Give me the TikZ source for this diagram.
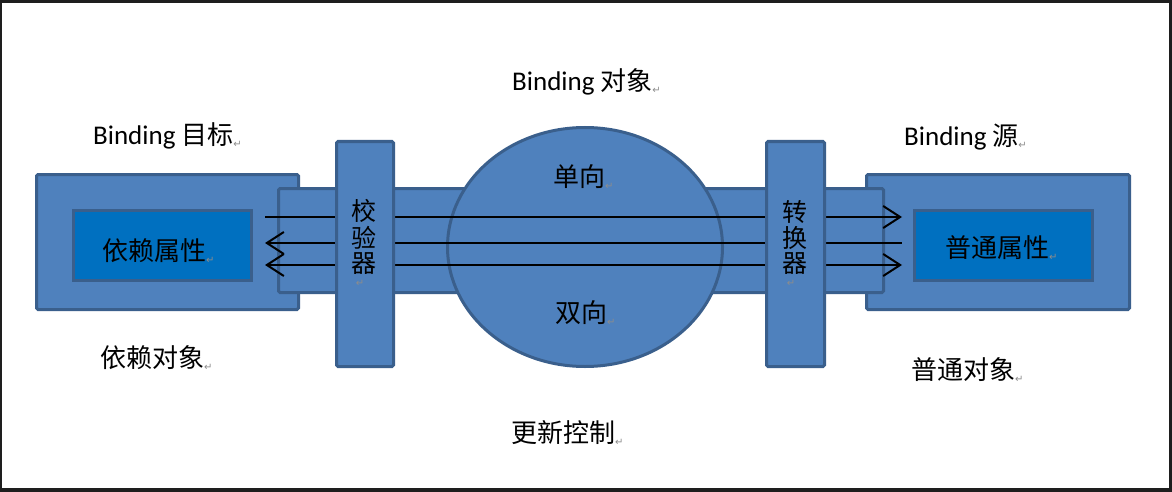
\documentclass[tikz,border=0pt]{standalone}
\usepackage{fontspec}
\setmainfont{Carlito}
\newfontfamily\cjk{Noto Sans CJK SC}
\newfontfamily\symfont{DejaVu Sans}
\usetikzlibrary{arrows.meta}
\definecolor{fillblue}{HTML}{4F81BD}
\definecolor{edgeblue}{HTML}{3A5F8C}
\definecolor{innerblue}{HTML}{0070C0}
\definecolor{framecol}{HTML}{1E1E1E}
\definecolor{markgray}{HTML}{8C8C8C}
\newcommand{\pmark}{{\symfont\fontsize{10}{10}\selectfont\color{markgray}\raisebox{-3pt}{↵}}}
\newcommand{\lat}{\fontsize{27}{30}\selectfont}
\begin{document}
\begin{tikzpicture}[x=1pt,y=-1pt,
  blk/.style={draw=edgeblue, fill=fillblue, line width=3pt, rounded corners=1.5pt, inner sep=0pt},
  innerbox/.style={draw=edgeblue, fill=innerblue, line width=3pt, inner sep=0pt},
  lbl/.style={inner sep=0pt, anchor=west, font=\cjk\fontsize{26}{30}\selectfont, text=black},
  vlbl/.style={inner sep=0pt, font=\cjk\fontsize{25}{30}\selectfont, text=black},
  flow/.style={line width=2pt, draw=black}
]
\useasboundingbox (0,0) rectangle (1172,492);
\fill[framecol] (0,0) rectangle (1172,492);
\fill[white] (2,3) rectangle (1169,488);

% outer object boxes
\node[blk, minimum width=262pt, minimum height=135pt] (lout) at (167.5,242) {};
\node[blk, minimum width=263pt, minimum height=135pt] (rout) at (998,242) {};
% inner property boxes
\node[innerbox, minimum width=178pt, minimum height=70pt] (lin) at (162.5,245.5) {};
\node[innerbox, minimum width=178pt, minimum height=70pt] (rin) at (1003.5,245.5) {};
% band
\node[blk, minimum width=605pt, minimum height=104pt] (band) at (581,240.5) {};
% binding ellipse
\draw[draw=edgeblue, fill=fillblue, line width=3pt] (585,247) ellipse [x radius=137.5, y radius=119.5];
\coordinate (ell) at (585,247);

% flow lines
\coordinate (a1) at (265,217); \coordinate (b1) at (902,217);
\coordinate (a2) at (265,243); \coordinate (b2) at (902,243);
\coordinate (a3) at (265,265); \coordinate (b3) at (902,265);
\draw[flow, -{Straight Barb[length=17pt,width=22pt]}] (a1) -- (b1);
\draw[flow, {Straight Barb[length=17pt,width=22pt]}-] (a2) -- (b2);
\draw[flow, {Straight Barb[length=17pt,width=22pt]}-{Straight Barb[length=17pt,width=22pt]}] (a3) -- (b3);

% validator and converter
\node[blk, minimum width=57pt, minimum height=225pt] (val) at (365,254) {};
\node[blk, minimum width=58pt, minimum height=225pt] (conv) at (795.5,254) {};

\node[vlbl] (v1) at (364,211) {校};
\node[vlbl] (v2) at (364,238) {验};
\node[vlbl] (v3) at (364,264) {器};
\node[inner sep=0pt] (v4) at (360,283) {\pmark};
\node[vlbl] (c1) at (795,212) {转};
\node[vlbl] (c2) at (795,238) {换};
\node[vlbl] (c3) at (795,264) {器};
\node[inner sep=0pt] (c4) at (791,283) {\pmark};

% labels
\node[lbl] (t1) at (93,136) {{\rmfamily\lat Binding} 目标\pmark};
\node[lbl] (t2) at (512,82) {{\rmfamily\lat Binding} 对象\pmark};
\node[lbl] (t3) at (904,137) {{\rmfamily\lat Binding} 源\pmark};
\node[lbl] (t4) at (553,177) {单向\pmark};
\node[lbl] (t5) at (555,313) {双向\pmark};
\node[lbl] (t6) at (102,251) {依赖属性\pmark};
\node[lbl] (t7) at (945,248) {普通属性\pmark};
\node[lbl] (t8) at (100,358) {依赖对象\pmark};
\node[lbl] (t9) at (911,370) {普通对象\pmark};
\node[lbl] (t10) at (511,433) {更新控制\pmark};
\end{tikzpicture}
\end{document}
